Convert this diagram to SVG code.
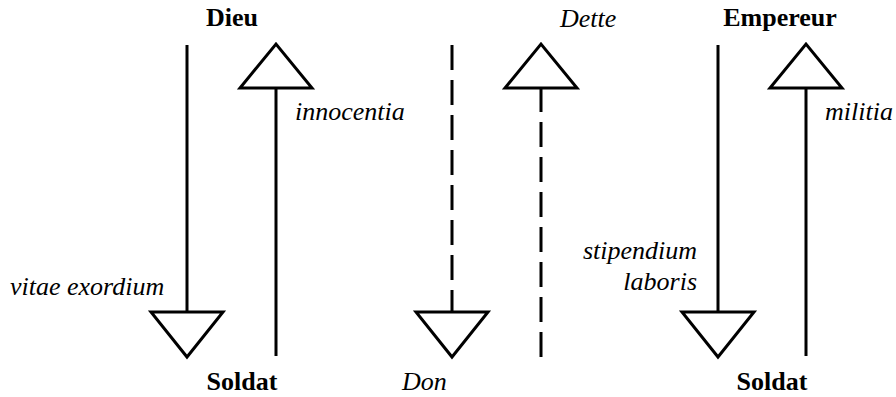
<svg xmlns="http://www.w3.org/2000/svg" width="896" height="397" viewBox="0 0 896 397">
<style>
.ln{stroke:#000;stroke-width:3;fill:none}
.ds{stroke-dasharray:25,10}
.tri{stroke:#000;stroke-width:3;fill:#fff;stroke-linejoin:miter}
.b{font-family:'Liberation Serif','Times New Roman',serif;font-size:26px;font-weight:bold;fill:#000}
.i{font-family:'Liberation Serif','Times New Roman',serif;font-size:26px;font-style:italic;fill:#000}
</style>
<rect width="896" height="397" fill="#fff"/>
<g id="connectors">
<line class="ln" x1="187" y1="45" x2="187" y2="312"/>
<line class="ln" x1="276" y1="356" x2="276" y2="88"/>
<line class="ln ds" x1="452" y1="45" x2="452" y2="312"/>
<line class="ln ds" x1="541" y1="357" x2="541" y2="88"/>
<line class="ln" x1="718" y1="45" x2="718" y2="312"/>
<line class="ln" x1="806" y1="356" x2="806" y2="88"/>
<polygon class="tri" points="151,312 223,312 187,357"/>
<polygon class="tri" points="240,88 312,88 276,44"/>
<polygon class="tri" points="416,312 488,312 452,357"/>
<polygon class="tri" points="505,88 577,88 541,44"/>
<polygon class="tri" points="682,312 754,312 718,357"/>
<polygon class="tri" points="770,88 842,88 806,44"/>
</g>
<g id="dieu"><text class="b" x="232" y="26" text-anchor="middle">Dieu</text></g>
<g id="soldat1"><text class="b" x="242" y="390" text-anchor="middle">Soldat</text></g>
<g id="dette"><text class="i" x="560" y="27">Dette</text></g>
<g id="don"><text class="i" x="402" y="390">Don</text></g>
<g id="empereur"><text class="b" x="780" y="26" text-anchor="middle">Empereur</text></g>
<g id="soldat2"><text class="b" x="772" y="390" text-anchor="middle">Soldat</text></g>
<g id="labels">
<text class="i" x="295" y="120">innocentia</text>
<text class="i" x="825" y="120">militia</text>
<text class="i" x="10" y="295">vitae exordium</text>
<text class="i" x="697" y="259" text-anchor="end">stipendium</text>
<text class="i" x="697" y="290" text-anchor="end">laboris</text>
</g>
</svg>
